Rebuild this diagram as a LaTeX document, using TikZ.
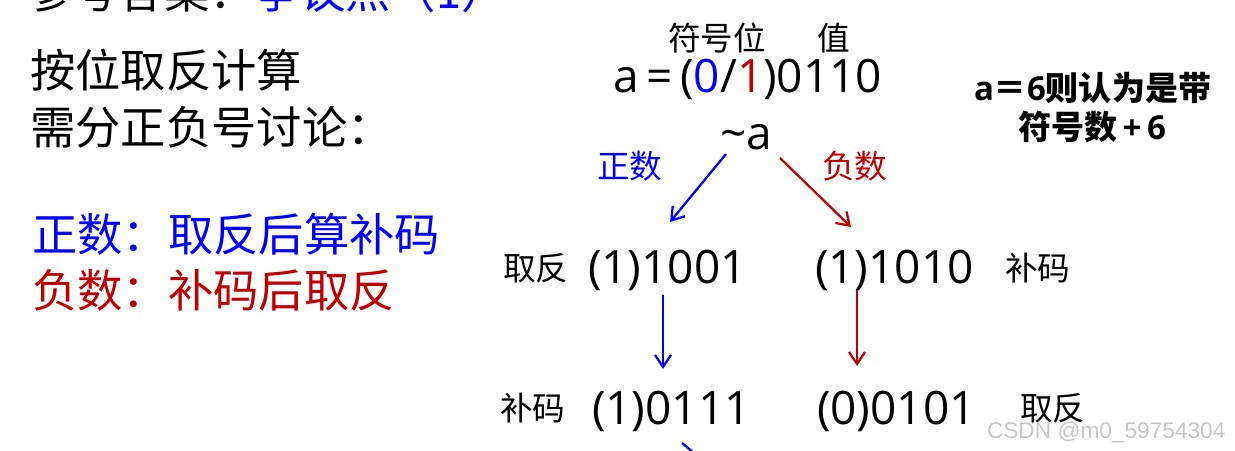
\documentclass[tikz,border=0pt]{standalone}
\usepackage{fontspec}
\setmainfont{Open Sans}
\newfontfamily\cjk{Noto Sans CJK SC}
\newfontfamily\wmfont{Liberation Sans}
\usetikzlibrary{arrows.meta}
\definecolor{myblue}{RGB}{0,0,255}
\definecolor{myred}{RGB}{192,0,0}
\begin{document}
\begin{tikzpicture}[x=0.75pt,y=-0.75pt,
  txt/.style={anchor=base west,inner sep=0pt,outer sep=0pt},
  bigcjk/.style={txt,font=\cjk\fontsize{34}{40}\selectfont},
  bignum/.style={txt,font=\fontsize{34.5}{40}\selectfont},
  midcjk/.style={txt,font=\cjk\fontsize{24.5}{30}\selectfont},
  notefont/.style={txt,font=\bfseries\fontsize{24.8}{30}\selectfont},
  arr/.style={line width=1.7pt,-{Straight Barb[length=9pt,width=12pt]}},
  wm/.style={txt,font=\wmfont\fontsize{17}{20}\selectfont,text=black!22}]
\useasboundingbox (0,0) rectangle (1235,450);
\clip (0,0) rectangle (1235,450);

% left column
\node[bigcjk] (title) at (28,8) {参考答案：\textcolor{myblue}{争议点（1）}};
\node[bigcjk] (l1) at (30,87) {按位取反计算};
\node[bigcjk] (l2) at (30,144) {需分正负号讨论：};
\node[bigcjk,text=myblue] (l3) at (32,251) {正数：取反后算补码};
\node[bigcjk,text=myred] (l4) at (32,307) {负数：补码后取反};

% top of right part
\node[midcjk] (fhw) at (668,50) {符号位};
\node[midcjk] (zhi) at (817,50) {值};
\node[bignum] (a) at (613,92) {a\,=\,(\textcolor{myblue}{0}/\textcolor{myred}{1})0110};
\node[bignum] (na) at (720,149) {\char`\~a};
\node[midcjk,text=myblue] (zs) at (597,178) {正数};
\node[midcjk,text=myred] (fs) at (822,178) {负数};

% note
\node[notefont] (n1) at (974,100) {a{\cjk＝}6{\cjk 则认为是带}};
\node[notefont] (n2) at (1018,139) {{\cjk 符号数}\,+\,6};

% row 1
\node[midcjk] (r1a) at (503,280) {取反};
\node[bignum] (r1b) at (588,283) {(1)1001};
\node[bignum] (r1c) at (815,283) {(1)1010};
\node[midcjk] (r1d) at (1005,280) {补码};

% row 2
\node[midcjk] (r2a) at (500,420) {补码};
\node[bignum] (r2b) at (592,424) {(1)0111};
\node[bignum] (r2c) at (817,424) {(0)0101};
\node[midcjk] (r2d) at (1020,420) {取反};

% arrow end points
\coordinate (bs) at (726,154);
\coordinate (be) at (670,222);
\coordinate (rs) at (780,158);
\coordinate (re) at (851,227);
\coordinate (bvs) at (663,295);
\coordinate (bve) at (663,369);
\coordinate (rvs) at (857,290);
\coordinate (rve) at (857,366);
\coordinate (bfs) at (682,443);
\coordinate (bfe) at (700,458);

\draw[arr,myblue] (bs) -- (be);
\draw[arr,myred] (rs) -- (re);
\draw[arr,myblue] (bvs) -- (bve);
\draw[arr,myred] (rvs) -- (rve);
\draw[line width=1.7pt,myblue] (bfs) -- (bfe);

% watermark
\node[wm] (wmk) at (987,438) {CSDN @m0\_59754304};
\end{tikzpicture}
\end{document}
